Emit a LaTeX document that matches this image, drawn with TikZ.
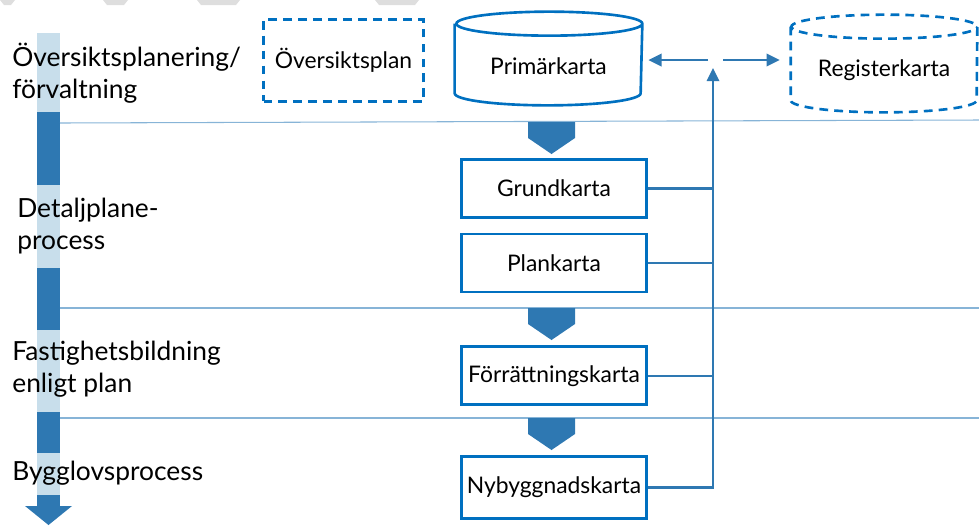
\documentclass[tikz,border=0pt]{standalone}
\usepackage{fontspec}
\setmainfont{Lato}
\usepackage{tikz}
\usetikzlibrary{positioning,arrows.meta}

\definecolor{boxblue}{RGB}{0,112,192}
\definecolor{flowblue}{RGB}{46,120,178}
\definecolor{palebar}{RGB}{200,222,235}
\definecolor{rulecol}{RGB}{135,180,215}
\definecolor{ghost}{RGB}{222,222,222}

\begin{document}
\begin{tikzpicture}[
    x=0.02cm, y=-0.02cm,
    node distance=0.28cm,
    every node/.style={align=center, font=\fontsize{13}{15}\selectfont},
    kartbox/.style={draw=boxblue, line width=1.5pt, minimum width=3.7cm, minimum height=1.16cm, inner sep=0pt},
    kartline/.style={draw=boxblue, line width=1.5pt},
    ghostbox/.style={draw=boxblue, line width=1.5pt, dash pattern=on 5pt off 3.5pt},
    phase/.style={anchor=west, align=left, inner sep=0pt, font=\fontsize{15}{18}\selectfont},
    link/.style={draw=flowblue, line width=1.4pt},
    tip/.style={-{Triangle[length=7.5pt, width=7pt]}}
]
\useasboundingbox (0,0) rectangle (979,525);

% slide remnants at the top
\foreach \a/\b in {0/15,103/128,197/240,375/419}
    \fill[ghost] (\a,0) -- (\b,0) -- (\b-4,5) -- (\a+4,5) -- cycle;

% Phase bar
\foreach \a/\b/\c in {33/112/palebar, 112/185/flowblue, 185/268/palebar, 268/330/flowblue,
                      330/412/palebar, 412/453/flowblue, 453/495/palebar, 495/507/flowblue}
    \fill[\c] (37,\a) rectangle (60,\b);
\fill[flowblue] (25,506) -- (72,506) -- (48.5,525) -- cycle;

% Rules between phases
\draw[rulecol, line width=0.6pt] (60,123) -- (979,120);
\draw[rulecol, line width=0.6pt] (60,308) -- (979,308);
\draw[rulecol, line width=0.6pt] (60,418) -- (979,418);

% Phase labels
\node[phase] (p1) at (12,73) {Översiktsplanering/\\förvaltning};
\node[phase] (p2) at (17,226) {Detaljplane-\\process};
\node[phase] (p3) at (12,369) {Fastighetsbildning\\enligt plan};
\node[phase] (p4) at (12,473) {Bygglovsprocess};

% Top row
\node[ghostbox, minimum width=3.2cm, minimum height=1.64cm] (osp) at (343.5,60.5) {Översiktsplan};
\node[minimum width=3.74cm, minimum height=1.86cm, inner sep=0pt] (prim) at (548.5,58.5) {};
\node (primtext) at (548.5,66) {Primärkarta};
\node[minimum width=3.72cm, minimum height=1.94cm, inner sep=0pt] (reg) at (884,63.5) {};
\node (regtext) at (884,70) {Registerkarta};

% Cylinders
\foreach \c/\s in {prim/kartline, reg/ghostbox}
    \draw[\s] ([yshift=-0.24cm]\c.north west) -- ([yshift=0.24cm]\c.south west)
        arc[start angle=180, end angle=360, x radius=1.86cm, y radius=0.24cm]
        -- ([yshift=-0.24cm]\c.north east)
        arc[start angle=0, end angle=360, x radius=1.86cm, y radius=0.24cm];

% Map column
\node[kartbox] (grund) at (554,188.5) {Grundkarta};
\node[kartbox] (plan) [below=of grund] {Plankarta};
\node[kartbox] (forr) [below=1.04cm of plan] {Förrättningskarta};
\node[kartbox, minimum height=1.24cm] (nyby) [below=0.98cm of forr] {Nybyggnadskarta};

% Step chevrons
\foreach \y in {122,308,418}
    \fill[flowblue] (528,\y) -- (575,\y) -- (575,\y+16) -- (551.5,\y+32) -- (528,\y+16) -- cycle;

% Feedback to the base maps
\coordinate (hub) at (713,60);
\draw[link, tip] (nyby.east) -- (nyby.east -| hub) -- ([yshift=-0.16cm]hub);
\foreach \n in {grund,plan,forr}
    \draw[link] (\n.east) -- (\n.east -| hub);
\draw[link, tip] ([xshift=-0.1cm]hub) -- ([xshift=0.12cm]prim.east |- hub);
\draw[link, tip] ([xshift=0.2cm]hub) -- ([xshift=-0.22cm]reg.west |- hub);

\end{tikzpicture}
\end{document}
